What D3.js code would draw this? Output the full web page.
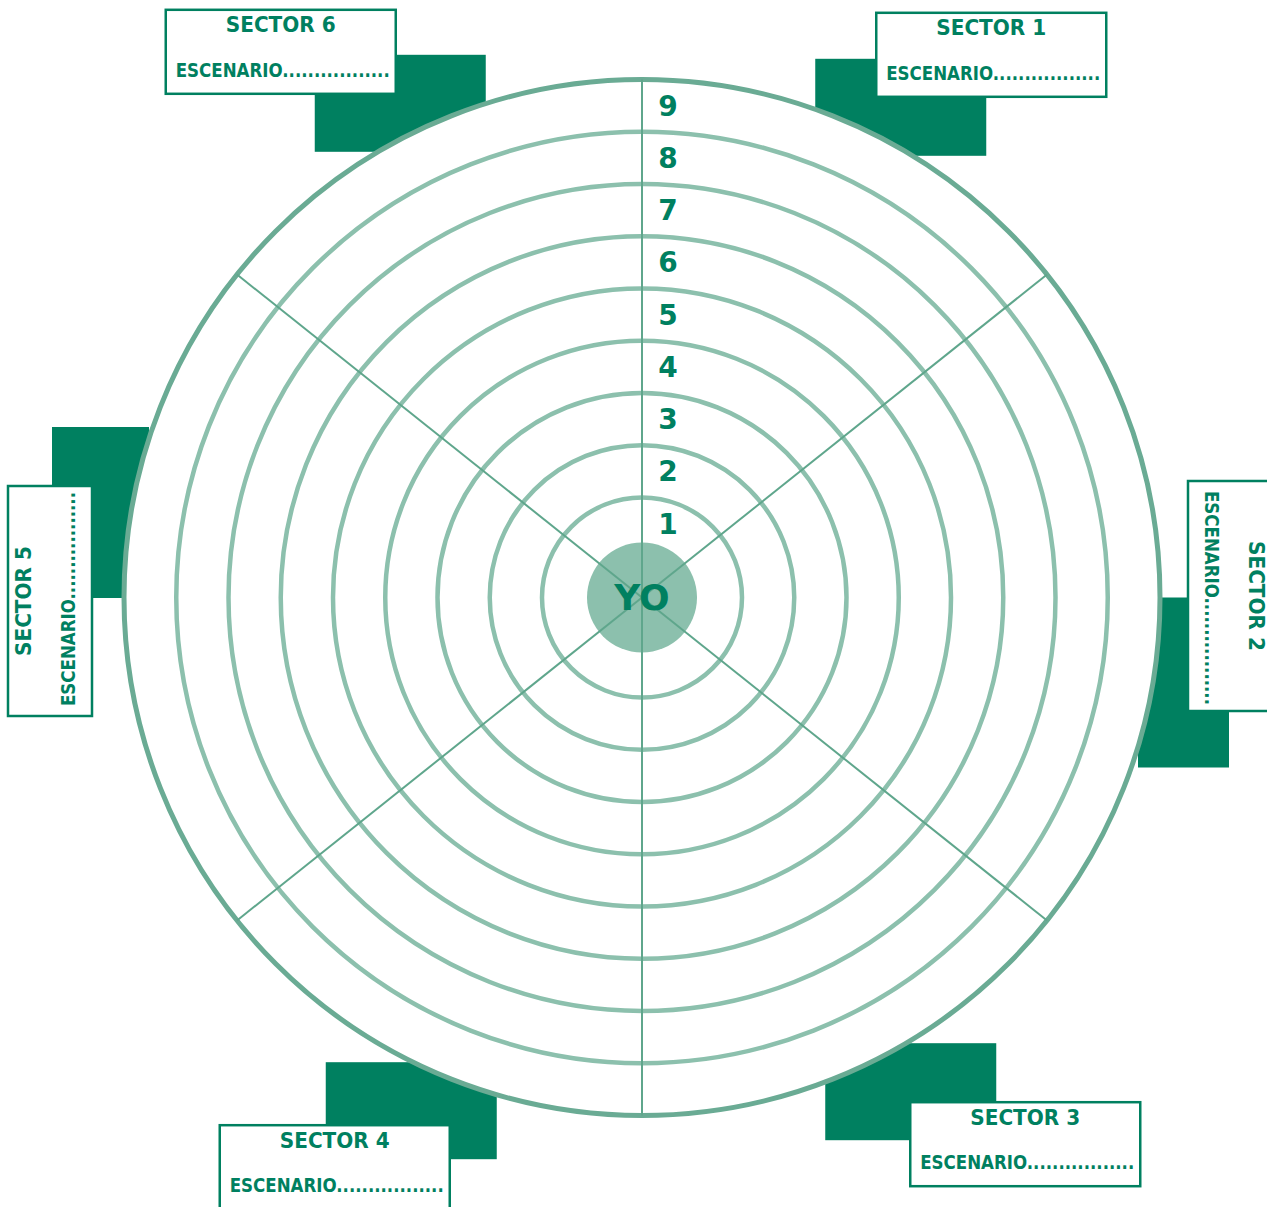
<!DOCTYPE html>
<html>
<head>
<meta charset="utf-8">
<script src="https://cdn.jsdelivr.net/npm/d3@7"></script>
<style>
  body { margin: 0; background: #fff; }
  svg { display: block; }
  text { font-family: "DejaVu Sans", sans-serif; font-weight: bold; fill: #008060; }
</style>
</head>
<body>
<div id="graph-container"></div>
<script>
// data
const sectors = ['SECTOR 1', 'SECTOR 2', 'SECTOR 3', 'SECTOR 4', 'SECTOR 5', 'SECTOR 6'];
const sectorWeights = [2, 3, 2, 2, 3, 2];
const levels = [1, 2, 3, 4, 5, 6, 7, 8, 9];
const levelLabels = ['1', '2', '3', '4', '5', '6', '7', '8', '9'];
const centerLabel = 'YO';
const scenarioLabel = 'ESCENARIO.................';

// layout
const width = 1267, height = 1207;
const cx = 642, cy = 597.5;
const dark = '#008060';

// tab offsets from the point where each sector's mid angle meets the outer ring
// rect: dark block; box: label box (x, y, rotation)
const tabs = [
  { rect: [-51.5, -72, 171, 97],   box: [9.5, -118, 0] },
  { rect: [-22, 0, 91, 170],       box: [112, -116.5, 90] },
  { rect: [-41.5, -21, 171, 97],   box: [43.5, 38, 0] },
  { rect: [-91.5, -2, 171, 97],    box: [-197.5, 61, 0] },
  { rect: [-72, -170.5, 97, 171],  box: [-116, 118.5, -90] },
  { rect: [-102.5, -76, 171, 97],  box: [-251.5, -121, 0] }
];
const boxW = 230, boxH = 84;

const r = d3.scaleLinear().domain([1, 9]).range([100, 518]);
const outerR = r(d3.max(levels));

const pie = d3.pie().sort(null).value(d => d.w);
const arcs = pie(sectors.map((s, i) => ({ name: s, w: sectorWeights[i] })));

const svg = d3.select('#graph-container')
              .append('svg')
              .attr('width', width)
              .attr('height', height);

function polar(angle, radius) {
  return [cx + radius * Math.sin(angle), cy - radius * Math.cos(angle)];
}

// dark tabs behind the wheel
arcs.forEach((a, i) => {
  const mid = (a.startAngle + a.endAngle) / 2;
  const [ax, ay] = polar(mid, outerR);
  const t = tabs[i].rect;
  svg.append('rect')
     .attr('x', ax + t[0])
     .attr('y', ay + t[1])
     .attr('width', t[2])
     .attr('height', t[3])
     .attr('fill', dark);
});

const wheel = svg.append('g').attr('transform', `translate(${cx},${cy})`);

// white face
wheel.append('circle')
     .attr('r', outerR)
     .attr('fill', '#fff');

// rings (outermost one a touch darker)
wheel.selectAll('circle.ring')
     .data(levels)
     .enter()
     .append('circle')
     .attr('class', 'ring')
     .attr('r', d => r(d))
     .attr('fill', 'none')
     .attr('stroke', (d, i) => i === levels.length - 1 ? '#6aab94' : '#8cc0ad')
     .attr('stroke-width', (d, i) => i === levels.length - 1 ? 5 : 4.5);

// centre disc
wheel.append('circle')
     .attr('r', 55)
     .attr('fill', '#8cc0ad');

// spokes between sectors
wheel.selectAll('line.spoke')
     .data(arcs)
     .enter()
     .append('line')
     .attr('class', 'spoke')
     .attr('x1', 0)
     .attr('y1', 0)
     .attr('x2', d => outerR * Math.sin(d.startAngle))
     .attr('y2', d => -outerR * Math.cos(d.startAngle))
     .attr('stroke', '#5fa68c')
     .attr('stroke-width', 2);

// level numbers
wheel.selectAll('text.level')
     .data(levels)
     .enter()
     .append('text')
     .attr('class', 'level')
     .attr('x', 26)
     .attr('y', d => -r(d - 0.5))
     .attr('dy', '0.36em')
     .attr('text-anchor', 'middle')
     .style('font-size', '28px')
     .text((d, i) => levelLabels[i]);

wheel.append('text')
     .attr('x', 0)
     .attr('y', 0)
     .attr('dy', '0.36em')
     .attr('text-anchor', 'middle')
     .style('font-size', '36px')
     .text(centerLabel);

// label boxes
arcs.forEach((a, i) => {
  const mid = (a.startAngle + a.endAngle) / 2;
  const [ax, ay] = polar(mid, outerR);
  const b = tabs[i].box;
  const g = svg.append('g')
               .attr('transform', `translate(${ax + b[0]},${ay + b[1]}) rotate(${b[2]})`);
  g.append('rect')
   .attr('x', 0)
   .attr('y', 0)
   .attr('width', boxW)
   .attr('height', boxH)
   .attr('fill', '#fff')
   .attr('stroke', dark)
   .attr('stroke-width', 2.5);
  g.append('text')
   .attr('x', boxW / 2)
   .attr('y', 15)
   .attr('dy', '0.36em')
   .attr('text-anchor', 'middle')
   .attr('textLength', 110)
   .attr('lengthAdjust', 'spacingAndGlyphs')
   .style('font-size', '21px')
   .text(a.data.name);
  g.append('text')
   .attr('x', 10)
   .attr('y', 60)
   .attr('dy', '0.36em')
   .attr('textLength', 214)
   .attr('lengthAdjust', 'spacingAndGlyphs')
   .style('font-size', '20px')
   .text(scenarioLabel);
});
</script>
</body>
</html>
